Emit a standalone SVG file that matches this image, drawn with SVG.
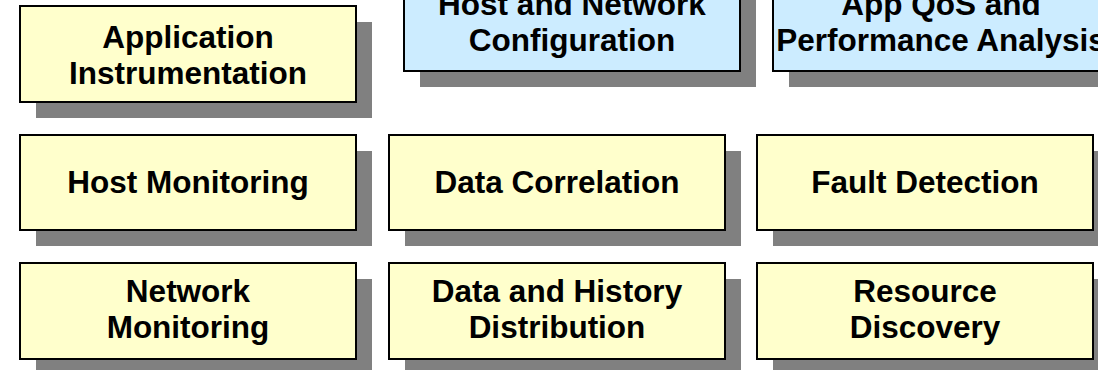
<svg xmlns="http://www.w3.org/2000/svg" width="1098" height="370" viewBox="0 0 1098 370">
  <style>
    .shadow { fill: #808080; }
    .box { stroke: #000; stroke-width: 2; }
    .yellow { fill: #FFFFCC; }
    .blue { fill: #CCECFF; }
    .label { font-family: "Liberation Sans", Arial, sans-serif; font-weight: bold; font-size: 31.5px; fill: #000; text-anchor: middle; }
  </style>
  <rect width="1098" height="370" fill="#fff"/>

  <!-- top row (partly above the frame) -->
  <g id="host-network-config">
    <rect class="shadow" x="420" y="-9" width="336" height="96"/>
    <rect class="box blue" x="404" y="-25" width="336" height="96"/>
    <text class="label"><tspan x="572" y="15">Host and Network</tspan><tspan x="572" y="51">Configuration</tspan></text>
  </g>
  <g id="app-qos-performance">
    <rect class="shadow" x="789" y="-9" width="336" height="96"/>
    <rect class="box blue" x="773" y="-25" width="336" height="96"/>
    <text class="label"><tspan x="941" y="15">App QoS and</tspan><tspan x="941" y="51">Performance Analysis</tspan></text>
  </g>

  <g id="application-instrumentation">
    <rect class="shadow" x="36" y="22" width="336" height="96"/>
    <rect class="box yellow" x="20" y="6" width="336" height="96"/>
    <text class="label"><tspan x="188" y="48">Application</tspan><tspan x="188" y="84">Instrumentation</tspan></text>
  </g>

  <!-- middle row -->
  <g id="host-monitoring">
    <rect class="shadow" x="36" y="151" width="336" height="95"/>
    <rect class="box yellow" x="20" y="135" width="336" height="95"/>
    <text class="label"><tspan x="188" y="193">Host Monitoring</tspan></text>
  </g>
  <g id="data-correlation">
    <rect class="shadow" x="405" y="151" width="336" height="95"/>
    <rect class="box yellow" x="389" y="135" width="336" height="95"/>
    <text class="label"><tspan x="557" y="193">Data Correlation</tspan></text>
  </g>
  <g id="fault-detection">
    <rect class="shadow" x="773" y="151" width="336" height="95"/>
    <rect class="box yellow" x="757" y="135" width="336" height="95"/>
    <text class="label"><tspan x="925" y="193">Fault Detection</tspan></text>
  </g>

  <!-- bottom row -->
  <g id="network-monitoring">
    <rect class="shadow" x="36" y="279" width="336" height="96"/>
    <rect class="box yellow" x="20" y="263" width="336" height="96"/>
    <text class="label"><tspan x="188" y="302">Network</tspan><tspan x="188" y="338">Monitoring</tspan></text>
  </g>
  <g id="data-history-distribution">
    <rect class="shadow" x="405" y="279" width="336" height="96"/>
    <rect class="box yellow" x="389" y="263" width="336" height="96"/>
    <text class="label"><tspan x="557" y="302">Data and History</tspan><tspan x="557" y="338">Distribution</tspan></text>
  </g>
  <g id="resource-discovery">
    <rect class="shadow" x="773" y="279" width="336" height="96"/>
    <rect class="box yellow" x="757" y="263" width="336" height="96"/>
    <text class="label"><tspan x="925" y="302">Resource</tspan><tspan x="925" y="338">Discovery</tspan></text>
  </g>

  <g id="connectors"/>
</svg>
